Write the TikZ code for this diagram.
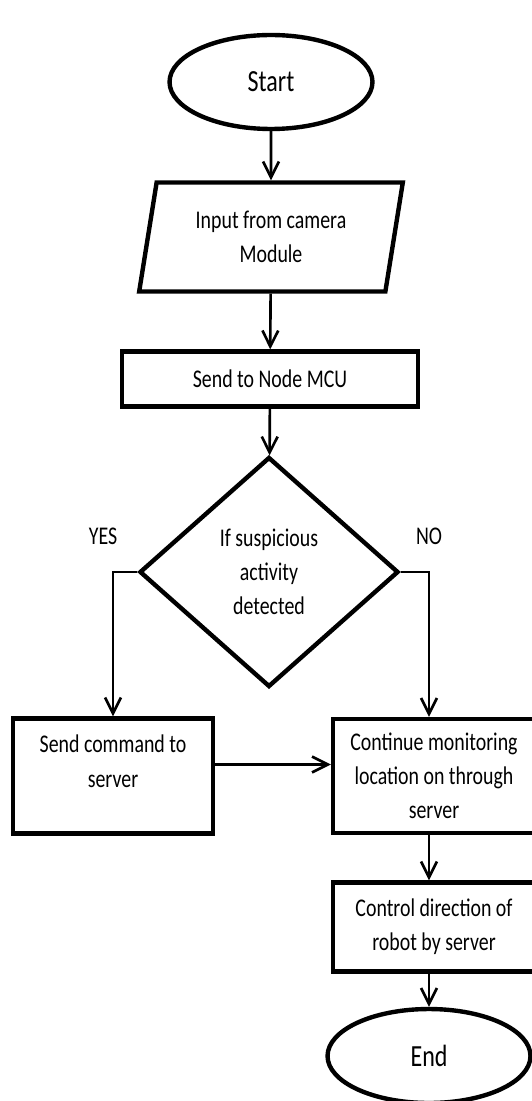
\documentclass[tikz,border=0pt]{standalone}
\usepackage{fontspec}
\setmainfont{Carlito}[FakeStretch=0.78]
\usepackage{tikz}
\usetikzlibrary{shapes.geometric, arrows.meta}
\tikzset{
    normal/.style={draw, line width=2.5pt},
    term/.style={style=normal, ellipse, minimum width=4.06cm, minimum height=1.88cm, inner sep=0, font=\fontsize{17.5pt}{20pt}\selectfont}, % start and end
    io/.style={style=normal, trapezium, trapezium left angle=79, trapezium right angle=101, trapezium stretches=true, minimum width=5.28cm, minimum height=2.18cm, align=center}, % input
    proc/.style={style=normal, rectangle, inner sep=0, align=center}, % steps
    cond/.style={style=normal, diamond, aspect=1.12, minimum width=5.18cm, minimum height=4.6cm, inner sep=0, align=center}, % decision
    lbl/.style={inner sep=0},
    e/.style={line width=1.5pt, -{Straight Barb[length=9pt, width=9pt]}}
}

\begin{document}
\begin{tikzpicture}[x=0.02cm, y=-0.02cm, font=\fontsize{14.5pt}{19.5pt}\selectfont]
          \useasboundingbox (0, 0) rectangle (531, 1101);
          \node[term] (start) at (271, 82) {Start};
          \node[io] (in) at (271, 237) {Input from camera\\Module};
          \node[proc, minimum width=5.92cm, minimum height=1.1cm] (mcu) at (270, 379) {Send to Node MCU};
          \node[cond] (check) at (269, 572) {If suspicious\\activity\\detected};
          \node[lbl] (yes) at (103, 536) {YES};
          \node[lbl] (no) at (429, 536) {NO};
          \node[proc, minimum width=4cm, minimum height=2.3cm, text depth=17pt] (cmd) at (113, 776) {Send command to\\server};
          \node[proc, minimum width=4.04cm, minimum height=2.28cm] (cont) at (434, 776) {Continue monitoring\\location on through\\server};
          \node[proc, minimum width=4.04cm, minimum height=1.78cm] (ctrl) at (434, 927) {Control direction of\\robot by server};
          \node[term] (stop) at (429, 1056) {End};

          \draw[e] (start) -- (in);
          \draw[e] (in) -- (mcu);
          \draw[e] (mcu) -- (check);
          \draw[e] (check.west) -| (cmd.north);
          \draw[e] (check.east) -| (cont.north -| stop);
          \draw[e] ([yshift=0.23cm]cmd.east) -- ([yshift=0.23cm]cmd.east -| cont.west);
          \draw[e] (cont.south -| stop) -- (ctrl.north -| stop);
          \draw[e] (ctrl.south -| stop) -- (stop);
        \end{tikzpicture}
\end{document}
